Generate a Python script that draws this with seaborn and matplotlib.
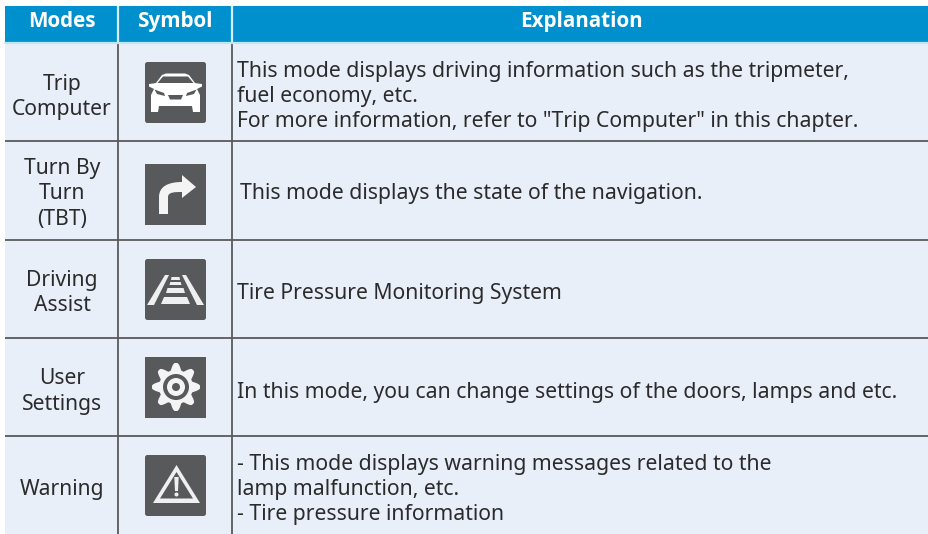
import numpy as np
import matplotlib
matplotlib.use("Agg")
import matplotlib.pyplot as plt
from matplotlib.patches import Polygon, Circle, FancyBboxPatch, PathPatch
from matplotlib.path import Path
from matplotlib.colors import ListedColormap
import seaborn as sns

headers = ["Modes", "Symbol", "Explanation"]
modes = ["Trip\nComputer", "Turn By\nTurn\n(TBT)", "Driving\nAssist", "User\nSettings", "Warning"]
explanations = [
    ['This mode displays driving information such as the tripmeter,', 'fuel economy, etc.',
     'For more information, refer to "Trip Computer" in this chapter.'],
    ['This mode displays the state of the navigation.'],
    ['Tire Pressure Monitoring System'],
    ['In this mode, you can change settings of the doors, lamps and etc.'],
    ['- This mode displays warning messages related to the', 'lamp malfunction, etc.', '- Tire pressure information'],
]
W, H = 929, 534
HEAD = "#0090CD"; BODY = "#E8EFF9"; INK = "#2B2B2B"; ICON = "#58595B"; SEP = "#5A5A5A"
X0, X1, X2, X3 = 5, 118.5, 232.5, 929
Y0, Y1 = 6, 42.5
ROWS = [42.5, 141, 239.5, 338, 436, 534]
EXPL_X = [237, 240, 237, 237, 237]
TEXT_Y = [[77.5, 102, 126.5], [199], [299], [398], [470, 495, 520]]
MODE_Y = [[90, 115], [174, 199, 225], [286, 311], [384, 410], [495]]
ICON_Y = [62, 164, 259, 357, 455]

sns.set_theme(style="white")
plt.rcParams['font.family'] = ['Noto Sans', 'DejaVu Sans']
fig = plt.figure(figsize=(W / 100, H / 100), dpi=100, facecolor="white")

def frame(x0, y0, x1, y1):
    return fig.add_axes([x0 / W, 1 - y1 / H, (x1 - x0) / W, (y1 - y0) / H])

hax = frame(X0, Y0, X3, Y1)
sns.heatmap(np.zeros((1, 1)), ax=hax, cbar=False, cmap=ListedColormap([HEAD]), xticklabels=False, yticklabels=False)
bax = frame(X0, Y1, X3, H)
sns.heatmap(np.zeros((5, 3)), ax=bax, cbar=False, cmap=ListedColormap([BODY]), xticklabels=False, yticklabels=False)

ax = fig.add_axes([0, 0, 1, 1])
ax.set_xlim(0, W); ax.set_ylim(H, 0); ax.axis("off"); ax.patch.set_alpha(0)

for x in (X1, X2):
    ax.plot([x, x], [Y0, Y1], color="#D5F0FA", lw=1.6, solid_capstyle="butt")
    ax.plot([x, x], [Y1 + 1, H], color=SEP, lw=1.3, solid_capstyle="butt")
ax.plot([X0, X3], [Y1, Y1], color="#BFE6F5", lw=1.6)
for y in ROWS[1:-1]:
    ax.plot([X0, X3], [y, y], color=SEP, lw=1.3, solid_capstyle="butt")

for x, s in zip([62, 175, 581], headers):
    ax.text(x, 27, s, color="white", fontsize=14.9, family="Open Sans", fontweight="bold", ha="center", va="baseline")
for lines, ys in zip(modes, MODE_Y):
    for s, y in zip(lines.split("\n"), ys):
        ax.text(62, y, s, color=INK, fontsize=15.2, ha="center", va="baseline")
for lines, ys, x in zip(explanations, TEXT_Y, EXPL_X):
    for s, y in zip(lines, ys):
        ax.text(x, y, s, color=INK, fontsize=15.25, ha="left", va="baseline")

IX = 145
S = 61
def base(y, rounded=True):
    style = "round,pad=1,rounding_size=2.5" if rounded else "square,pad=1"
    ax.add_patch(FancyBboxPatch((IX + 1, y + 1), S - 2, S - 2, boxstyle=style, fc=ICON, ec="none", zorder=3))
def poly(y, pts, fc="white", zorder=4):
    p = [(IX + a, y + b) for a, b in pts]
    ax.add_patch(Polygon(p, closed=True, fc=fc, ec="none", zorder=zorder))

def car(y):
    base(y)
    poly(y, [(4, 22), (8, 21.5), (11, 21), (17, 13), (21, 11.5), (40, 11.5), (44, 13), (50, 21), (53, 21.5), (57, 22), (57, 24.5),
             (52, 27), (55, 33), (55, 50), (48, 50), (47, 44), (14, 44), (13, 50), (6, 50), (6, 33), (9, 27), (4, 24.5)])
    poly(y, [(12.5, 21), (18, 14.5), (43, 14.5), (48.5, 21)], fc=ICON, zorder=5)
    poly(y, [(9.5, 27.5), (19, 31), (20, 34), (12, 32)], fc=ICON, zorder=5)
    poly(y, [(51.5, 27.5), (42, 31), (41, 34), (49, 32)], fc=ICON, zorder=5)
    poly(y, [(23, 33), (38, 33), (36, 37.5), (25, 37.5)], fc=ICON, zorder=5)

def turn(y):
    base(y, rounded=False)
    verts = [(14, 50), (14, 33), (14, 22), (24, 18), (37, 18), (37, 11), (51, 23), (37, 34), (37, 28), (30, 28), (23, 28), (23, 33), (23, 50), (14, 50)]
    codes = [Path.MOVETO, Path.LINETO, Path.CURVE4, Path.CURVE4, Path.CURVE4, Path.LINETO, Path.LINETO, Path.LINETO, Path.LINETO,
             Path.CURVE4, Path.CURVE4, Path.CURVE4, Path.LINETO, Path.CLOSEPOLY]
    path = Path([(IX + a, y + b) for a, b in verts], codes)
    ax.add_patch(PathPatch(path, fc="#F4F4F4", ec="none", zorder=4))

def lane(y):
    base(y)
    c = "#EFEFEF"
    poly(y, [(2, 46), (9, 46), (24, 16), (20, 16)], fc=c)
    poly(y, [(59, 46), (52, 46), (37, 16), (41, 16)], fc=c)
    poly(y, [(16, 45), (45, 45), (42, 38), (19, 38)], fc=c)
    poly(y, [(21, 34), (40, 34), (38.5, 29), (22.5, 29)], fc=c)
    poly(y, [(24.5, 26), (36.5, 26), (35.7, 23), (25.3, 23)], fc=c)
    poly(y, [(26, 21), (35, 21), (34.5, 18), (26.5, 18)], fc=c)

def gear(y):
    base(y, rounded=False)
    cx, cy = IX + 31, y + 30
    ang = np.deg2rad(np.arange(0, 360, 1.0))
    r = 20.5 + 3.5 * np.clip(1.15 * np.cos(8 * ang), -1, 1)
    ax.add_patch(Polygon(np.c_[cx + r * np.cos(ang), cy + r * np.sin(ang)], fc="#F4F4F4", ec="none", zorder=4))
    ax.add_patch(Circle((cx, cy), 13, fc=ICON, ec="none", zorder=5))
    ax.add_patch(Circle((cx, cy), 9, fc="#F4F4F4", ec="none", zorder=6))
    ax.add_patch(Circle((cx, cy), 4, fc=ICON, ec="none", zorder=7))

def warn(y):
    base(y)
    c = "#F0F0F0"
    poly(y, [(31.5, 10), (55, 48), (8, 48)], fc=c)
    poly(y, [(31.5, 17), (48, 43.5), (15, 43.5)], fc=ICON, zorder=5)
    poly(y, [(29.3, 22), (33.7, 22), (33, 36), (30, 36)], fc=c, zorder=6)
    ax.add_patch(Circle((IX + 31.5, y + 39.5), 2, fc=c, ec="none", zorder=6))

for f, y in zip([car, turn, lane, gear, warn], ICON_Y):
    f(y)

fig.savefig("out.png", dpi=100)
